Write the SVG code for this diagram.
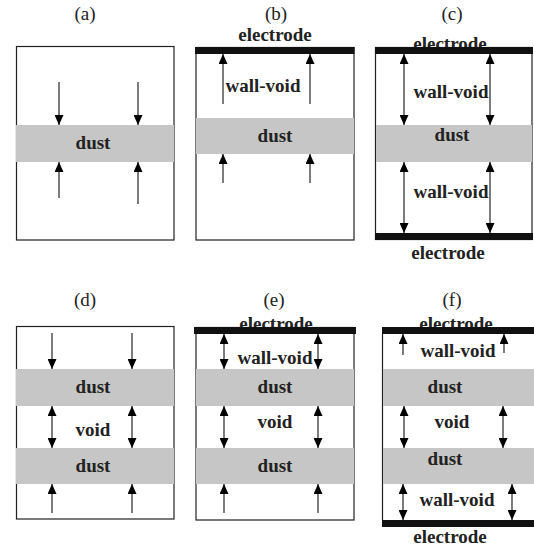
<svg xmlns="http://www.w3.org/2000/svg" width="534" height="548" viewBox="0 0 534 548">
<defs>
<marker id="ah" markerUnits="userSpaceOnUse" markerWidth="10" markerHeight="9" refX="10" refY="4.5" orient="auto-start-reverse"><path d="M0,0 L10,4.5 L0,9 z" fill="#000"/></marker>
<style>
.box{fill:#fff;stroke:#222;stroke-width:1.2}
.dust{fill:#c6c6c6}
.bar{fill:#111}
text{font-family:'Liberation Serif','Times New Roman',serif;font-size:19px;fill:#222;text-anchor:middle}
.b{font-weight:bold}
.s{stroke:#111;stroke-width:1.1;fill:none;marker-end:url(#ah)}
.d{stroke:#111;stroke-width:1.1;fill:none;marker-start:url(#ah);marker-end:url(#ah)}
</style>
</defs>
<rect width="534" height="548" fill="#fff"/>

<g id="panel-a" font-family="Liberation Serif, serif">
<text x="85" y="20">(a)</text>
<rect class="box" x="16.5" y="46.5" width="157.5" height="193.5"/>
<rect id="a-dust" class="dust" x="16" y="125" width="158" height="37"/>
<text class="b" x="93" y="149">dust</text>
</g>

<g id="panel-b" font-family="Liberation Serif, serif">
<text x="276" y="20">(b)</text>
<text class="b" x="275" y="41">electrode</text>
<rect class="box" x="196" y="47.5" width="158" height="192.5"/>
<rect id="b-electrode" class="bar" x="195" y="47" width="159.5" height="7"/>
<rect id="b-dust" class="dust" x="196" y="118" width="158" height="36"/>
<text class="b" x="263" y="92">wall-void</text>
<text class="b" x="275" y="142">dust</text>
</g>

<g id="panel-c" font-family="Liberation Serif, serif">
<text x="452" y="20">(c)</text>
<text class="b" x="450" y="50">electrode</text>
<rect class="box" x="375.5" y="47.5" width="156.5" height="192"/>
<rect id="c-electrode-top" class="bar" x="375" y="47" width="158" height="7"/>
<rect id="c-electrode-bottom" class="bar" x="375" y="233" width="158" height="7"/>
<rect id="c-dust" class="dust" x="376" y="125" width="156" height="37"/>
<text class="b" x="451" y="98">wall-void</text>
<text class="b" x="452" y="141">dust</text>
<text class="b" x="451" y="198">wall-void</text>
<text class="b" x="448" y="259">electrode</text>
</g>

<g id="panel-d" font-family="Liberation Serif, serif">
<text x="85" y="306">(d)</text>
<rect class="box" x="16.5" y="326.5" width="157.5" height="192.5"/>
<rect id="d-dust1" class="dust" x="16" y="369" width="158" height="37"/>
<rect id="d-dust2" class="dust" x="16" y="448" width="158" height="36"/>
<text class="b" x="93" y="393">dust</text>
<text class="b" x="93" y="436">void</text>
<text class="b" x="93" y="472">dust</text>
</g>

<g id="panel-e" font-family="Liberation Serif, serif">
<text x="274" y="306">(e)</text>
<text class="b" x="276" y="330">electrode</text>
<rect class="box" x="196" y="327.5" width="158" height="192.5"/>
<rect id="e-electrode" class="bar" x="194" y="327" width="162" height="7"/>
<rect id="e-dust1" class="dust" x="196" y="369" width="158" height="37"/>
<rect id="e-dust2" class="dust" x="196" y="448" width="158" height="36"/>
<text class="b" x="275" y="364">wall-void</text>
<text class="b" x="275" y="393">dust</text>
<text class="b" x="275" y="428">void</text>
<text class="b" x="275" y="472">dust</text>
</g>

<g id="panel-f" font-family="Liberation Serif, serif">
<text x="452" y="306">(f)</text>
<text class="b" x="456" y="330">electrode</text>
<rect fill="#fff" x="382" y="334" width="152" height="186"/>
<line x1="382.5" y1="334" x2="382.5" y2="520" stroke="#222" stroke-width="1.2"/>
<rect id="f-electrode-top" class="bar" x="382" y="327" width="152" height="7"/>
<rect id="f-electrode-bottom" class="bar" x="382" y="520" width="152" height="7"/>
<rect id="f-dust1" class="dust" x="383" y="369" width="151" height="37"/>
<rect id="f-dust2" class="dust" x="383" y="448" width="151" height="36"/>
<text class="b" x="458" y="357">wall-void</text>
<text class="b" x="445" y="393">dust</text>
<text class="b" x="452" y="428">void</text>
<text class="b" x="445" y="465">dust</text>
<text class="b" x="457" y="506">wall-void</text>
<text class="b" x="450" y="543">electrode</text>
</g>

<g id="connectors">
<line class="s" x1="59" y1="82" x2="59" y2="125"/>
<line class="s" x1="138" y1="82" x2="138" y2="125"/>
<line class="s" x1="59" y1="198" x2="59" y2="162"/>
<line class="s" x1="138" y1="204" x2="138" y2="162"/>
<line class="s" x1="223" y1="104" x2="223" y2="54"/>
<line class="s" x1="310" y1="104" x2="310" y2="54"/>
<line class="s" x1="223" y1="183" x2="223" y2="154"/>
<line class="s" x1="310" y1="183" x2="310" y2="154"/>
<line class="d" x1="404" y1="54" x2="404" y2="125"/>
<line class="d" x1="490" y1="54" x2="490" y2="125"/>
<line class="d" x1="404" y1="162" x2="404" y2="233"/>
<line class="d" x1="490" y1="162" x2="490" y2="233"/>
<line class="s" x1="52" y1="333" x2="52" y2="369"/>
<line class="s" x1="132" y1="333" x2="132" y2="369"/>
<line class="d" x1="52" y1="406" x2="52" y2="448"/>
<line class="d" x1="132" y1="406" x2="132" y2="448"/>
<line class="s" x1="52" y1="513" x2="52" y2="484"/>
<line class="s" x1="132" y1="513" x2="132" y2="484"/>
<line class="d" x1="224" y1="334" x2="224" y2="369"/>
<line class="d" x1="318" y1="334" x2="318" y2="369"/>
<line class="d" x1="224" y1="406" x2="224" y2="448"/>
<line class="d" x1="318" y1="406" x2="318" y2="448"/>
<line class="s" x1="224" y1="513" x2="224" y2="484"/>
<line class="s" x1="318" y1="513" x2="318" y2="484"/>
<line class="s" x1="403" y1="355" x2="403" y2="334"/>
<line class="s" x1="504" y1="353" x2="504" y2="334"/>
<line class="d" x1="404" y1="406" x2="404" y2="448"/>
<line class="d" x1="503" y1="406" x2="503" y2="448"/>
<line class="d" x1="403" y1="484" x2="403" y2="520"/>
<line class="d" x1="512" y1="484" x2="512" y2="520"/>
</g>
</svg>
